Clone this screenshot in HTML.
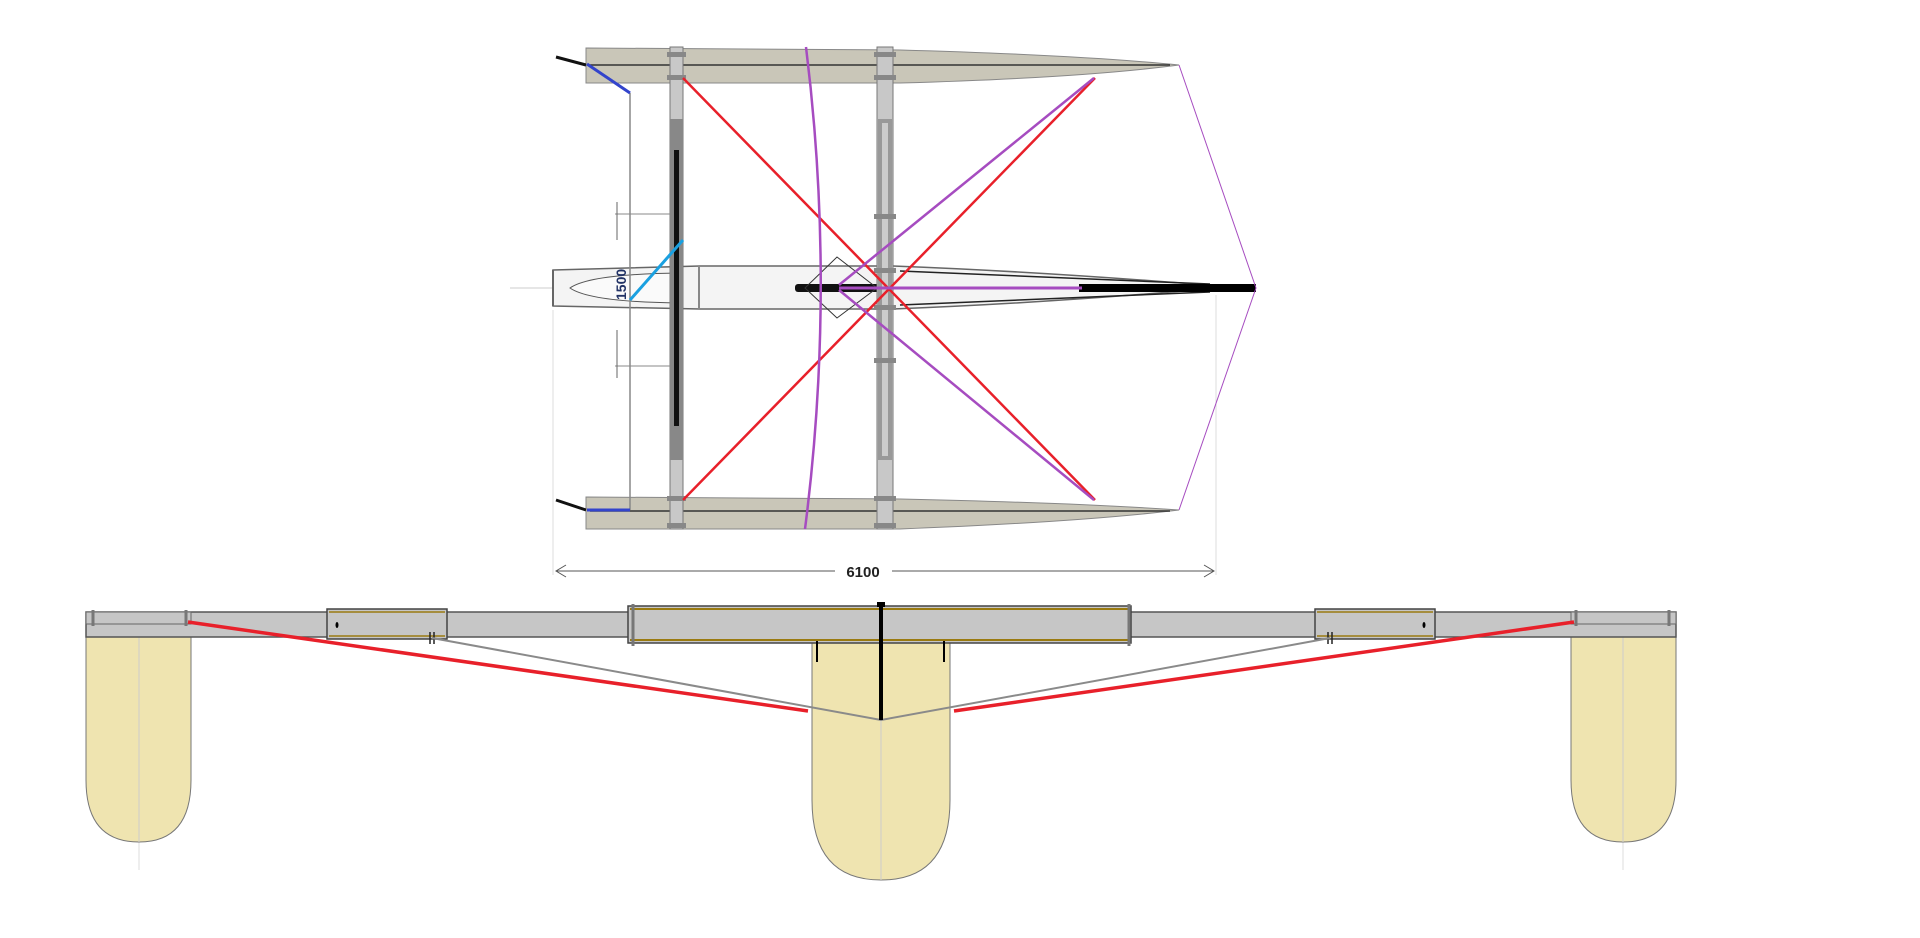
<!DOCTYPE html>
<html><head><meta charset="utf-8"><style>html,body{margin:0;padding:0;background:#fff}svg{display:block}</style></head>
<body>
<svg width="1920" height="938" viewBox="0 0 1920 938" xmlns="http://www.w3.org/2000/svg" font-family="Liberation Sans, sans-serif">
<!-- TOP VIEW -->
<!-- dimension lines -->
<line x1="553" y1="310" x2="553" y2="575" stroke="#ddd" stroke-width="1"/>
<line x1="1216" y1="295" x2="1216" y2="575" stroke="#ddd" stroke-width="1"/>
<line x1="556" y1="571" x2="835" y2="571" stroke="#555" stroke-width="1"/>
<line x1="892" y1="571" x2="1214" y2="571" stroke="#555" stroke-width="1"/>
<path d="M566 565 L556 571 L566 577" fill="none" stroke="#555"/>
<path d="M1204 565 L1214 571 L1204 577" fill="none" stroke="#555"/>
<text x="863" y="577" font-size="15" font-weight="bold" text-anchor="middle" fill="#222">6100</text>
<line x1="510" y1="288" x2="560" y2="288" stroke="#ccc"/>
<!-- central hull -->
<path d="M553 270 L700 266 L893 266 Q1050 272 1230 287 Q1050 303 893 309 L700 309 L553 306 Z" fill="#f4f4f4" stroke="#666" stroke-width="1.5"/>
<path d="M570 288 Q590 274 680 273 L680 303 Q590 302 570 288 Z" fill="#fafafa" stroke="#555"/>
<line x1="553" y1="270" x2="553" y2="306" stroke="#666" stroke-width="2"/>
<line x1="699" y1="266" x2="699" y2="309" stroke="#888" stroke-width="2"/>
<line x1="900" y1="271" x2="1210" y2="284" stroke="#222" stroke-width="1.5"/>
<line x1="900" y1="305" x2="1210" y2="292" stroke="#222" stroke-width="1.5"/>
<rect x="1079" y="284" width="177" height="8" fill="#000"/>
<rect x="795" y="284" width="90" height="8" rx="3" fill="#111"/>
<path d="M837 257 L877 288 L837 318 L805 288 Z" fill="none" stroke="#333" stroke-width="1"/>
<!-- hulls -->
<path d="M586 48 L900 50 Q1080 55 1179 65 Q1080 78 900 83 L586 83 Z" fill="#c9c6b8" stroke="#888"/>
<line x1="590" y1="65" x2="1170" y2="65" stroke="#333" stroke-width="1.5"/>
<path d="M586 497 L900 499 Q1080 503 1179 510 Q1080 522 900 529 L586 529 Z" fill="#c9c6b8" stroke="#888"/>
<line x1="590" y1="511" x2="1170" y2="511" stroke="#333" stroke-width="1.5"/>
<line x1="556" y1="57" x2="586" y2="65" stroke="#111" stroke-width="3"/>
<line x1="556" y1="500" x2="586" y2="510" stroke="#111" stroke-width="3"/>
<!-- beams -->
<rect x="670" y="47" width="13" height="482" fill="#c8c8c8" stroke="#777"/>
<rect x="670" y="119" width="13" height="341" fill="#888"/>
<rect x="674" y="150" width="5" height="276" fill="#111"/>
<rect x="877" y="47" width="16" height="482" fill="#c8c8c8" stroke="#777"/>
<rect x="878" y="119" width="14" height="341" fill="#999"/>
<rect x="882" y="123" width="6" height="333" fill="#ccc"/>
<g fill="#888"><rect x="667" y="52" width="19" height="5"/><rect x="667" y="75" width="19" height="5"/><rect x="667" y="496" width="19" height="5"/><rect x="667" y="523" width="19" height="5"/>
<rect x="874" y="52" width="22" height="5"/><rect x="874" y="75" width="22" height="5"/><rect x="874" y="496" width="22" height="5"/><rect x="874" y="523" width="22" height="5"/>
<rect x="874" y="214" width="22" height="5"/><rect x="874" y="268" width="22" height="5"/><rect x="874" y="305" width="22" height="5"/><rect x="874" y="358" width="22" height="5"/></g>
<!-- dimension 1500 -->
<line x1="615" y1="214" x2="670" y2="214" stroke="#888"/>
<line x1="615" y1="366" x2="670" y2="366" stroke="#888"/>
<line x1="617" y1="202" x2="617" y2="240" stroke="#666"/>
<line x1="617" y1="330" x2="617" y2="378" stroke="#666"/>
<text x="0" y="0" transform="translate(626,300) rotate(-90)" font-size="14" font-weight="bold" fill="#223366">1500</text>
<line x1="630" y1="93" x2="630" y2="510" stroke="#888" stroke-width="1.5"/>
<!-- lines -->
<line x1="587" y1="64" x2="630" y2="93" stroke="#3344cc" stroke-width="3"/>
<line x1="587" y1="510" x2="630" y2="510" stroke="#3344cc" stroke-width="3"/>
<line x1="630" y1="300" x2="683" y2="240" stroke="#1aa0e0" stroke-width="3"/>
<line x1="683" y1="78" x2="1095" y2="500" stroke="#e8202a" stroke-width="2.5"/>
<line x1="683" y1="500" x2="1095" y2="78" stroke="#e8202a" stroke-width="2.5"/>
<path d="M806 47 Q836 288 805 529" fill="none" stroke="#a64cc0" stroke-width="2.5"/>
<line x1="1094" y1="78" x2="839" y2="285" stroke="#a64cc0" stroke-width="2.5"/>
<line x1="839" y1="290" x2="1094" y2="500" stroke="#a64cc0" stroke-width="2.5"/>
<line x1="839" y1="288" x2="1082" y2="288" stroke="#a64cc0" stroke-width="3"/>
<path d="M1179 65 L1256 288 L1179 510" fill="none" stroke="#a64cc0" stroke-width="1"/>
<!-- BOTTOM VIEW -->
<line x1="139" y1="840" x2="139" y2="870" stroke="#ddd"/>
<line x1="1623" y1="840" x2="1623" y2="870" stroke="#ddd"/>
<path d="M86 624 L191 624 L191 780 Q191 842 139 842 Q86 842 86 780 Z" fill="#efe4b0" stroke="#777" stroke-width="1"/>
<path d="M1571 624 L1676 624 L1676 780 Q1676 842 1623 842 Q1571 842 1571 780 Z" fill="#efe4b0" stroke="#777" stroke-width="1"/>
<path d="M812 643 L950 643 L950 800 Q950 880 881 880 Q812 880 812 800 Z" fill="#efe4b0" stroke="#777" stroke-width="1"/>
<line x1="139" y1="624" x2="139" y2="842" stroke="#ccc"/>
<line x1="1623" y1="624" x2="1623" y2="842" stroke="#ccc"/>
<line x1="881" y1="720" x2="881" y2="880" stroke="#ccc"/>
<!-- beam -->
<rect x="86" y="612" width="1590" height="25" fill="#c6c6c6" stroke="#555" stroke-width="1.5"/>
<rect x="86" y="612" width="105" height="12" fill="#c6c6c6" stroke="#666"/>
<rect x="1571" y="612" width="105" height="12" fill="#c6c6c6" stroke="#666"/>
<rect x="327" y="609" width="120" height="30" fill="#c6c6c6" stroke="#444" stroke-width="1.5"/>
<rect x="1315" y="609" width="120" height="30" fill="#c6c6c6" stroke="#444" stroke-width="1.5"/>
<rect x="628" y="606" width="503" height="37" fill="#c6c6c6" stroke="#444" stroke-width="1.5"/>
<line x1="630" y1="609" x2="1129" y2="609" stroke="#9a7a10" stroke-width="2"/>
<line x1="630" y1="640" x2="1129" y2="640" stroke="#9a7a10" stroke-width="2"/>
<line x1="329" y1="612" x2="445" y2="612" stroke="#9a7a10" stroke-width="1.5"/>
<line x1="329" y1="636" x2="445" y2="636" stroke="#9a7a10" stroke-width="1.5"/>
<line x1="1317" y1="612" x2="1433" y2="612" stroke="#9a7a10" stroke-width="1.5"/>
<line x1="1317" y1="636" x2="1433" y2="636" stroke="#9a7a10" stroke-width="1.5"/>
<g stroke="#777" stroke-width="3"><line x1="633" y1="604" x2="633" y2="646"/><line x1="1129" y1="604" x2="1129" y2="646"/><line x1="93" y1="610" x2="93" y2="626"/><line x1="186" y1="610" x2="186" y2="626"/><line x1="1576" y1="610" x2="1576" y2="626"/><line x1="1669" y1="610" x2="1669" y2="626"/></g>
<ellipse cx="337" cy="625" rx="1.5" ry="3" fill="#000"/><ellipse cx="1424" cy="625" rx="1.5" ry="3" fill="#000"/>
<g stroke="#222" stroke-width="1.5"><line x1="430" y1="632" x2="430" y2="644"/><line x1="434" y1="632" x2="434" y2="644"/><line x1="1328" y1="632" x2="1328" y2="644"/><line x1="1332" y1="632" x2="1332" y2="644"/></g>
<!-- rigging -->
<polyline points="432,638 881,720 1330,638" fill="none" stroke="#8a8a8a" stroke-width="2"/>
<line x1="188" y1="622" x2="808" y2="711" stroke="#e8202a" stroke-width="3.5"/>
<line x1="1574" y1="622" x2="954" y2="711" stroke="#e8202a" stroke-width="3.5"/>
<line x1="881" y1="604" x2="881" y2="720" stroke="#000" stroke-width="4"/>
<rect x="877" y="602" width="8" height="5" fill="#000"/>
<line x1="817" y1="641" x2="817" y2="662" stroke="#000" stroke-width="2"/>
<line x1="944" y1="641" x2="944" y2="662" stroke="#000" stroke-width="2"/>
</svg>
</body></html>
